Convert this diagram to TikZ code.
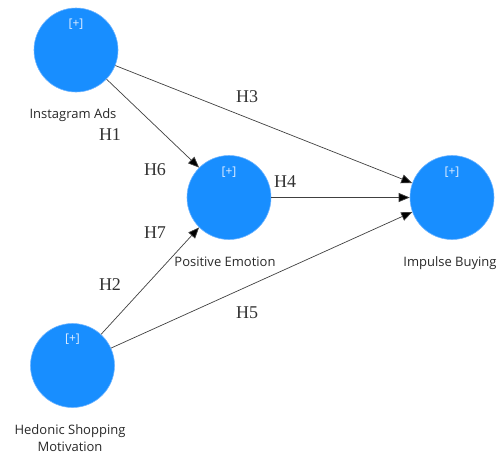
\documentclass[tikz,border=0pt]{standalone}
\usepackage{fontspec}
\setmainfont{Open Sans}
\newfontfamily\hfont{Liberation Serif}
\usetikzlibrary{arrows.meta}
\definecolor{lvblue}{RGB}{24,142,255}
\definecolor{lvedge}{RGB}{110,180,255}
\definecolor{lbl}{RGB}{40,40,40}
\definecolor{hcol}{RGB}{50,50,50}
\definecolor{plus}{RGB}{225,238,255}
\begin{document}
\begin{tikzpicture}[x=1pt,y=-1pt,
  lv/.style={circle,fill=lvblue,draw=lvedge,line width=0.6pt,minimum size=84pt,inner sep=0pt},
  plusmark/.style={text=plus,font=\fontsize{12}{14}\selectfont},
  lvname/.style={text=lbl,font=\fontsize{13}{17}\selectfont,align=center},
  hyp/.style={text=hcol,font=\hfont\fontsize{18}{20}\selectfont},
  path/.style={draw=black!75,line width=0.7pt,-{Triangle[length=11pt,width=9pt,fill=black]}}]
\useasboundingbox (0,0) rectangle (497,455);
\node[lv] (ia) at (76,50) {};
\node[lv] (pe) at (229,197.5) {};
\node[lv] (ib) at (452,197.5) {};
\node[lv] (hs) at (72.5,365.5) {};
\node[plusmark] (iap) at (76,24) {[+]};
\node[plusmark] (pep) at (229,172) {[+]};
\node[plusmark] (ibp) at (452,172) {[+]};
\node[plusmark] (hsp) at (72.5,339) {[+]};
\node[lvname] (ial) at (73,115) {Instagram Ads};
\node[lvname] (pel) at (225,262) {Positive Emotion};
\node[lvname] (ibl) at (450,263) {Impulse Buying};
\node[lvname] (hsl) at (70,438.5) {Hedonic Shopping\\Motivation};
\coordinate (pe1) at (pe.135);
\coordinate (pe2) at (pe.225);
\coordinate (ib1) at (ib.160);
\coordinate (ib2) at (ib.180);
\coordinate (ib3) at (ib.200);
\draw[path] (ia) -- (pe1);
\draw[path] (ia) -- (ib1);
\draw[path] (pe) -- (ib2);
\draw[path] (hs) -- (pe2);
\draw[path] (hs) -- (ib3);
\node[hyp] (h3) at (247,97) {H3};
\node[hyp] (h1) at (110,135) {H1};
\node[hyp] (h6) at (155,170) {H6};
\node[hyp] (h4) at (285,182) {H4};
\node[hyp] (h7) at (155,233) {H7};
\node[hyp] (h2) at (110,285) {H2};
\node[hyp] (h5) at (247,313) {H5};
\end{tikzpicture}
\end{document}
